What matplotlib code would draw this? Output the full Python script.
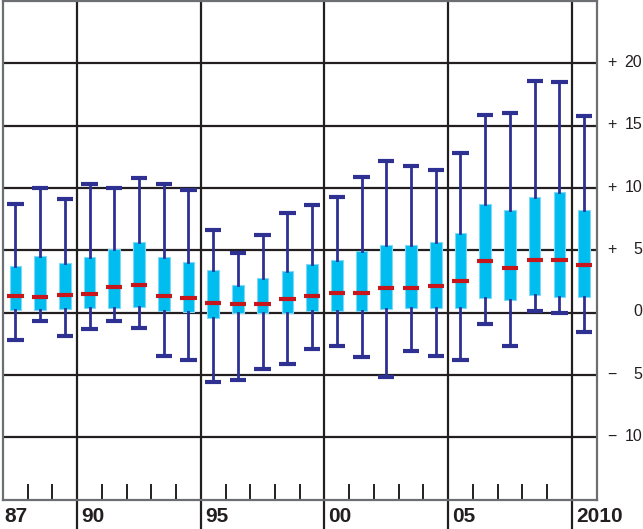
import matplotlib
matplotlib.use("Agg")
import matplotlib.pyplot as plt
import numpy as np

plt.rcParams['font.family'] = ['Liberation Sans', 'DejaVu Sans']

# ---- data ----
years = list(range(1987, 2011))
whishi = [8.7, 10.0, 9.1, 10.3, 10.0, 10.8, 10.3, 9.8, 6.6, 4.75, 6.25, 7.95,
          8.6, 9.25, 10.85, 12.2, 11.75, 11.4, 12.8, 15.85, 16.0, 18.6, 18.5, 15.75]
q3 = [3.7, 4.55, 3.95, 4.45, 5.1, 5.65, 4.45, 4.05, 3.4, 2.25, 2.8, 3.35,
      3.9, 4.25, 4.95, 5.45, 5.4, 5.65, 6.35, 8.7, 8.2, 9.25, 9.7, 8.25]
med = [1.35, 1.25, 1.4, 1.5, 2.05, 2.25, 1.35, 1.2, 0.8, 0.65, 0.7, 1.05,
       1.35, 1.55, 1.6, 1.95, 2.0, 2.15, 2.5, 4.1, 3.55, 4.2, 4.2, 3.8]
q1 = [0.2, 0.2, 0.3, 0.35, 0.4, 0.45, 0.1, 0.05, -0.45, 0.0, 0.0, 0.0,
      0.15, 0.15, 0.15, 0.25, 0.35, 0.35, 0.4, 1.15, 1.0, 1.4, 1.25, 1.25]
whislo = [-2.2, -0.65, -1.9, -1.3, -0.65, -1.2, -3.45, -3.8, -5.6, -5.4, -4.55, -4.1,
          -2.9, -2.65, -3.6, -5.15, -3.05, -3.45, -3.8, -0.9, -2.65, 0.1, 0.0, -1.55]
major_years = [1990, 1995, 2000, 2005, 2010]
x_labels = ["87", "90", "95", "00", "05", "2010"]
x_label_years = [1987, 1990, 1995, 2000, 2005, 2010]
y_ticks = [20, 15, 10, 5, 0, -5, -10]
y_signs = ["+", "+", "+", "+", "", "\u2212", "\u2212"]
y_nums = ["20", "15", "10", "5", "0", "5", "10"]

NAVY = '#2e3192'
CYAN = '#00bdf0'
RED = '#c8161d'
GRID = '#231f20'

fig = plt.figure(figsize=(6.43, 5.29), dpi=100)
W, H = 643, 529
ax = fig.add_axes([3 / W, (H - 499.5) / H, (596.5 - 3) / W, (499.5 - 1) / H])
ax.set_xlim(1987, 2011)
ax.set_ylim(-15, 25)

# horizontal grid lines
for yv in y_ticks:
    ax.axhline(yv, color=GRID, lw=1.6, zorder=1)

# vertical major year lines (extend to bottom of figure)
for yr in major_years:
    ax.plot([yr, yr], [25, -18.5], color=GRID, lw=1.6, zorder=1, clip_on=False)

# small tick marks at year boundaries
for yr in years[1:]:
    if yr not in major_years:
        ax.plot([yr, yr], [-15, -13.8], color=GRID, lw=1.4, zorder=1)

# box plots
pos = [y + 0.5 for y in years]
stats = [dict(med=m, q1=a, q3=b, whislo=lo, whishi=hi, fliers=[])
         for m, a, b, lo, hi in zip(med, q1, q3, whislo, whishi)]
ax.bxp(stats, positions=pos, widths=0.47, capwidths=0.66, patch_artist=True,
       showfliers=False, manage_ticks=False,
       boxprops=dict(facecolor=CYAN, edgecolor='#80d8f5', linewidth=0.8),
       whiskerprops=dict(color=NAVY, linewidth=2.0),
       capprops=dict(color=NAVY, linewidth=3.0, solid_capstyle='butt'),
       medianprops=dict(linewidth=0), zorder=3)
ax.hlines(med, [p - 0.33 for p in pos], [p + 0.33 for p in pos],
          color=RED, linewidth=3.0, zorder=4)

# frame
for s in ax.spines.values():
    s.set_color('#6d6e71')
    s.set_linewidth(1.6)
ax.set_xticks([])
ax.set_yticks([])

# y labels on right
for yv, sg, nm in zip(y_ticks, y_signs, y_nums):
    yf = (H - (312 - yv * 12.47)) / H
    if sg:
        fig.text(607 / W, yf, sg, ha='left', va='center', fontsize=11.5, color='#231f20')
    fig.text(642 / W, yf, nm, ha='right', va='center', fontsize=11.5, color='#231f20')

# x labels at bottom
for yr, lab in zip(x_label_years, x_labels):
    xd = ax.transData.transform((yr, 0))[0] / fig.dpi / 6.43
    off = 1.0 / W if yr == 1987 else 4.0 / W
    fig.text(xd + off, 2.5 / H, lab, ha='left', va='bottom', fontsize=15,
             fontweight='bold', color='#231f20')

fig.savefig('out.png', dpi=100)
